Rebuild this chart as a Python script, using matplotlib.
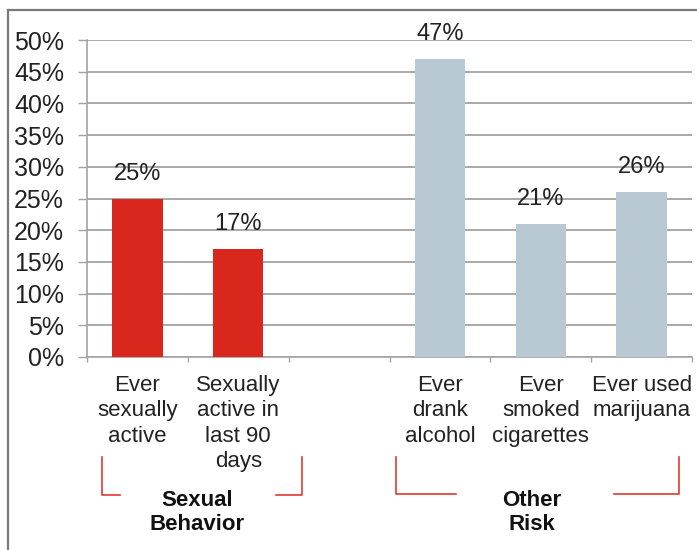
import numpy as np
import matplotlib
matplotlib.use("Agg")
import matplotlib.pyplot as plt
from matplotlib.lines import Line2D

plt.rcParams['font.family'] = ['Liberation Sans', 'DejaVu Sans']

# data
categories = ["Ever\nsexually\nactive", "Sexually\nactive in\nlast 90\ndays", "",
              "Ever\ndrank\nalcohol", "Ever\nsmoked\ncigarettes", "Ever used\nmarijuana"]
values = [25, 17, np.nan, 47, 21, 26]
groups = ["Sexual\nBehavior", "Other\nRisk"]
y_ticks = [0, 5, 10, 15, 20, 25, 30, 35, 40, 45, 50]

RED = "#D9271D"
BLUE = "#B8C9D3"
GRID = "#A3A3A3"
TXT = "#222222"
bar_colors = [RED, RED, BLUE, BLUE, BLUE, BLUE]

W, H = 697, 550
fig = plt.figure(figsize=(W / 100, H / 100), dpi=100)
ax = fig.add_axes([87 / W, 1 - 357 / H, (692 - 87) / W, (357 - 40) / H])

x = np.arange(len(categories))
ax.bar(x, values, width=0.5, color=bar_colors, zorder=3)

for xi, v in zip(x, values):
    if np.isnan(v):
        continue
    ax.annotate(f"{v:.0f}%", (xi, v), xytext=(0, 13.5), textcoords="offset points",
                ha="center", va="baseline", fontsize=17, color=TXT, zorder=4)

ax.set_xlim(-0.5, len(categories) - 0.5)
ax.set_ylim(0, 50)
ax.set_yticks(y_ticks)
ax.set_yticklabels([f"{t}%" for t in y_ticks])
ax.set_xticks(x)
ax.set_xticklabels(categories, fontsize=16, linespacing=1.27, color=TXT)
ax.set_xticks(np.arange(len(categories) + 1) - 0.5, minor=True)

ax.tick_params(axis="y", length=6.5, width=1, color=GRID, pad=10, labelsize=18,
               labelcolor=TXT)
ax.tick_params(axis="x", which="major", length=0, pad=13)
ax.tick_params(axis="x", which="minor", length=3.6, width=1, color=GRID)

ax.yaxis.grid(True, color=GRID, lw=1.3, zorder=0)
ax.set_axisbelow(True)
for s in ["top", "right"]:
    ax.spines[s].set_visible(False)
for s in ["left", "bottom"]:
    ax.spines[s].set_color(GRID)
    ax.spines[s].set_linewidth(1.2)


def bracket(x0, x1, in0, in1, ytop, ybot):
    kw = dict(color="#E2392F", lw=1.2, clip_on=False, zorder=5)
    ax.plot([x0, x0, in0], [ytop, ybot, ybot], **kw)
    ax.plot([in1, x1, x1], [ybot, ybot, ytop], **kw)


bracket(-0.355, 1.63, -0.17, 1.375, -15.8, -21.8)
bracket(2.565, 5.37, 3.157, 4.73, -15.8, -21.6)

ax.text(0.59, -24.5, groups[0], ha="center", va="center", fontsize=16,
        fontweight="bold", linespacing=1.15, color="#111111")
ax.text(3.915, -24.5, groups[1], ha="center", va="center", fontsize=16,
        fontweight="bold", linespacing=1.15, color="#111111")

# outer frame (left and top edges)
fx, fy = 8 / W, 1 - 10 / H
fig.add_artist(Line2D([fx, fx], [0, fy], transform=fig.transFigure,
                      color="#7A7A7A", lw=1.6))
fig.add_artist(Line2D([fx, 1], [fy, fy], transform=fig.transFigure,
                      color="#7A7A7A", lw=1.6))

fig.savefig("out.png", dpi=100)
